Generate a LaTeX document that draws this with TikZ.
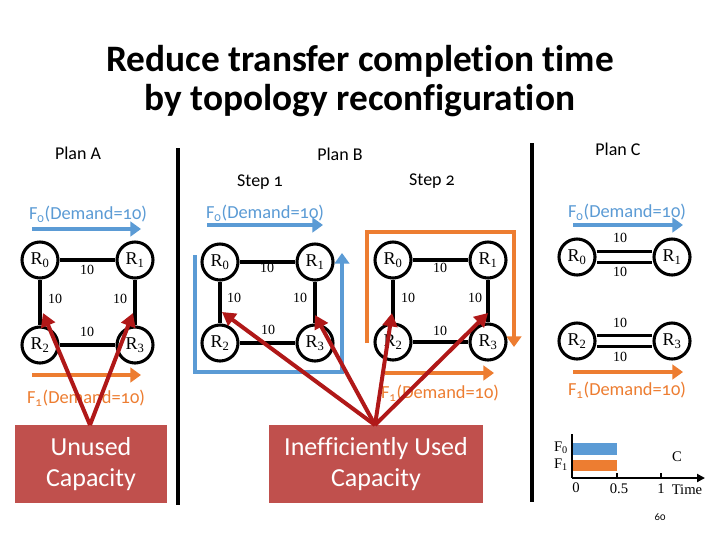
\documentclass[tikz,border=0pt]{standalone}
\usepackage{fontspec}
\setmainfont{Carlito}[Numbers=OldStyle, Ligatures=NoCommon]
\newfontfamily\serifR{Liberation Serif}
\usetikzlibrary{arrows.meta}
\definecolor{fblue}{HTML}{5B9BD5}
\definecolor{forange}{HTML}{ED7D31}
\definecolor{rarrow}{HTML}{B01818}
\definecolor{boxred}{HTML}{C0504D}
\newcommand{\Rn}[1]{{\serifR R\textsubscript{#1}}}
\newcommand{\Fn}[1]{F\textsubscript{#1}(Demand=10)}
\tikzset{
  router/.style={circle, draw=black, line width=2.3pt, fill=white, minimum size=27pt, inner sep=0pt, font=\serifR\fontsize{13.5}{13.5}\selectfont},
  link/.style={draw=black, line width=2.3pt},
  dlink/.style={draw=black, line width=2.3pt, double=white, double distance=6pt},
  caplbl/.style={font=\serifR\fontsize{10.5}{10.5}\selectfont, inner sep=0pt},
  flowtxt/.style={font=\fontsize{13.8}{13.8}\selectfont, inner sep=0pt},
  bluearrow/.style={draw=fblue, line width=3.6pt, -{Triangle[length=8pt,width=11pt]}},
  orangearrow/.style={draw=forange, line width=3.6pt, -{Triangle[length=8pt,width=11pt]}},
  redarrow/.style={draw=rarrow, line width=3pt, -{Triangle[length=10pt,width=11pt]}},
  redbox/.style={fill=boxred, text=white, font=\fontsize{19.5}{23}\selectfont, align=center, inner sep=0pt},
  divider/.style={draw=black, line width=2.4pt},
  planlbl/.style={font=\fontsize{13.5}{13.5}\selectfont, inner sep=0pt},
  chartlbl/.style={font=\serifR\fontsize{11}{11}\selectfont, inner sep=0pt},
}
\begin{document}
\begin{tikzpicture}[x=0.75pt,y=-0.75pt]
\useasboundingbox (0,0) rectangle (720,540);
\fill[white] (0,0) rectangle (720,540);
% title
\node[font=\bfseries\fontsize{28}{29}\selectfont, align=center] (title) at (360,81) {Reduce transfer completion time\\by topology reconfiguration};
% dividers
\coordinate (d1t) at (178,148); \coordinate (d1b) at (178,505);
\coordinate (d2t) at (532,143); \coordinate (d2b) at (532,502);
\draw[divider] (d1t) -- (d1b);
\draw[divider] (d2t) -- (d2b);
% plan labels
\node[planlbl] (pa) at (78,153) {Plan A};
\node[planlbl] (pb) at (340,154) {Plan B};
\node[planlbl] (pc) at (618,149) {Plan C};
\node[planlbl] (s1) at (260,182) {Step 1};
\node[planlbl] (s2) at (432,181) {Step 2};

% ---------- Plan A ----------
\node[flowtxt, text=fblue] (aF0) at (88,214) {\Fn{0}};
\coordinate (aF0s) at (32,229); \coordinate (aF0e) at (141,229);
\draw[bluearrow] (aF0s) -- (aF0e);
\node[router] (aR0) at (40,260) {\Rn{0}};
\node[router] (aR1) at (135,260) {\Rn{1}};
\node[router] (aR2) at (40,345) {\Rn{2}};
\node[router] (aR3) at (135,345) {\Rn{3}};
\draw[link] (aR0) -- (aR1);
\draw[link] (aR2) -- (aR3);
\draw[link] (aR0) -- (aR2);
\draw[link] (aR1) -- (aR3);
\node[caplbl] (ac1) at (87,270) {10};
\node[caplbl] (ac2) at (55,299) {10};
\node[caplbl] (ac3) at (120,299) {10};
\node[caplbl] (ac4) at (87,332) {10};
\coordinate (aF1s) at (32,375); \coordinate (aF1e) at (141,375);
\draw[orangearrow] (aF1s) -- (aF1e);
\node[flowtxt, text=forange] (aF1) at (86,398) {\Fn{1}};

% ---------- Plan B step 1 ----------
\node[flowtxt, text=fblue] (bF0) at (265,213) {\Fn{0}};
\coordinate (bF0s) at (207,225); \coordinate (bF0e) at (323,225);
\draw[bluearrow] (bF0s) -- (bF0e);
\draw[bluearrow] (195,255) -- (195,372) -- (342,372) -- (342,253);
\node[router] (bR0) at (220,262) {\Rn{0}};
\node[router] (bR1) at (315,262) {\Rn{1}};
\node[router] (bR2) at (220,343) {\Rn{2}};
\node[router] (bR3) at (315,343) {\Rn{3}};
\draw[link] (bR0) -- (bR1);
\draw[link] (bR2) -- (bR3);
\draw[link] (bR0) -- (bR2);
\draw[link] (bR1) -- (bR3);
\node[caplbl] (bc1) at (267,268) {10};
\node[caplbl] (bc2) at (234,298) {10};
\node[caplbl] (bc3) at (300,298) {10};
\node[caplbl] (bc4) at (268,330) {10};

% ---------- Plan B step 2 ----------
\draw[orangearrow] (367,343) -- (367,232) -- (514,232) -- (514,347);
\node[router] (cR0) at (393,260) {\Rn{0}};
\node[router] (cR1) at (488,260) {\Rn{1}};
\node[router] (cR2) at (393,342) {\Rn{2}};
\node[router] (cR3) at (488,342) {\Rn{3}};
\draw[link] (cR0) -- (cR1);
\draw[link] (cR2) -- (cR3);
\draw[link] (cR0) -- (cR2);
\draw[link] (cR1) -- (cR3);
\node[caplbl] (cc1) at (440,268) {10};
\node[caplbl] (cc2) at (408,298) {10};
\node[caplbl] (cc3) at (475,298) {10};
\node[caplbl] (cc4) at (440,331) {10};
\coordinate (cF1s) at (385,373); \coordinate (cF1e) at (494,373);
\draw[orangearrow] (cF1s) -- (cF1e);
\node[flowtxt, text=forange] (cF1) at (440,393) {\Fn{1}};

% ---------- Plan C ----------
\node[flowtxt, text=fblue] (dF0) at (627,212) {\Fn{0}};
\coordinate (dF0s) at (573,225); \coordinate (dF0e) at (683,225);
\draw[bluearrow] (dF0s) -- (dF0e);
\node[router] (dR0) at (577,257) {\Rn{0}};
\node[router] (dR1) at (672,257) {\Rn{1}};
\node[router] (dR2) at (577,341) {\Rn{2}};
\node[router] (dR3) at (672,341) {\Rn{3}};
\draw[dlink] (dR0) -- (dR1);
\draw[dlink] (dR2) -- (dR3);
\node[caplbl] (dc1) at (620,238) {10};
\node[caplbl] (dc2) at (620,272) {10};
\node[caplbl] (dc3) at (620,323) {10};
\node[caplbl] (dc4) at (620,357) {10};
\coordinate (dF1s) at (573,372); \coordinate (dF1e) at (683,372);
\draw[orangearrow] (dF1s) -- (dF1e);
\node[flowtxt, text=forange] (dF1) at (627,390) {\Fn{1}};

% ---------- boxes ----------
\node[redbox, minimum width=114pt, minimum height=58pt] (unused) at (91,464) {Unused\\Capacity};
\node[redbox, minimum width=160pt, minimum height=58pt] (ineff) at (376,464) {Inefficiently Used\\Capacity};
\coordinate (apA) at (90,425);
\coordinate (apB) at (375,425);
\coordinate (tA1) at (43,313); \coordinate (tA2) at (133,313);
\coordinate (tB1) at (222,312); \coordinate (tB2) at (315,315);
\coordinate (tB3) at (392,313); \coordinate (tB4) at (488,313);
\draw[redarrow] (apA) -- (tA1);
\draw[redarrow] (apA) -- (tA2);
\draw[redarrow] (apB) -- (tB1);
\draw[redarrow] (apB) -- (tB2);
\draw[redarrow] (apB) -- (tB3);
\draw[redarrow] (apB) -- (tB4);

% ---------- chart ----------
\coordinate (org) at (572,478);
\coordinate (ytop) at (572,434);
\coordinate (xend) at (705,478);
\fill[fblue] (572,443) rectangle (617,455);
\fill[forange] (572,460) rectangle (617,471);
\draw[draw=black, line width=2pt] (ytop) -- (org);
\draw[draw=black, line width=2pt, -{Triangle[length=6pt,width=6pt]}] (org) -- (xend);
\draw[black, line width=2pt] (617,478) -- (617,473);
\draw[black, line width=2pt] (661,478) -- (661,473);
\node[chartlbl] (cf0) at (561,448) {F\textsubscript{0}};
\node[chartlbl] (cf1) at (561,465) {F\textsubscript{1}};
\node[chartlbl] (cC) at (677,457) {C};
\node[chartlbl] (x0) at (576,488) {0};
\node[chartlbl] (x05) at (619,489) {0.5};
\node[chartlbl] (x1) at (661,489) {1};
\node[chartlbl] (xt) at (687,490) {Time};
\node[font=\fontsize{8}{8}\selectfont, inner sep=0pt] (pg) at (660,517) {60};
\end{tikzpicture}
\end{document}
